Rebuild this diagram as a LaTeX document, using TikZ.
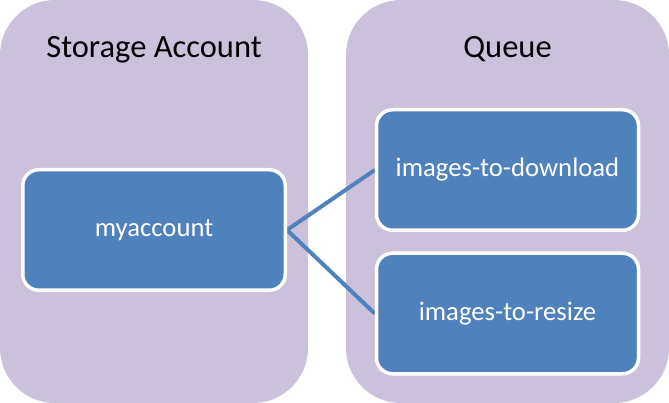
\documentclass[tikz,border=0pt]{standalone}
\usepackage{fontspec}
\setmainfont{Carlito}
\usetikzlibrary{backgrounds}
\definecolor{panelc}{HTML}{CCC1DA}
\definecolor{boxc}{HTML}{4F81BD}
\begin{document}
\begin{tikzpicture}[x=1pt,y=-1pt,
  panel/.style={rectangle,fill=panelc,draw=none,rounded corners=55pt,inner sep=0pt},
  title/.style={anchor=base,font=\fontsize{32.5}{39}\selectfont,text=black},
  qbox/.style={rectangle,fill=boxc,draw=white,line width=3.5pt,rounded corners=16pt,
    minimum width=262pt,minimum height=120.5pt,inner sep=0pt,
    text=white,font=\fontsize{26.7}{32}\selectfont},
  link/.style={draw=boxc,line width=4pt}]
\useasboundingbox (0,0) rectangle (669,403);
\node[qbox,minimum width=262.5pt] (ma) at (154,230) {myaccount};
\node[qbox] (dl) at (507.5,170) {images-to-download};
\node[qbox] (rs) at (507.5,313.5) {images-to-resize};
\begin{scope}[on background layer]
\node[panel,minimum width=308pt,minimum height=403pt] (sa) at (154,201.5) {};
\node[panel,minimum width=323pt,minimum height=403pt] (q) at (507.5,201.5) {};
\draw[link] (ma.east) -- (dl.west);
\draw[link] (ma.east) -- (rs.west);
\end{scope}
\node[title] (satitle) at (154,58) {Storage Account};
\node[title] (qtitle) at (507.5,58) {Queue};
\end{tikzpicture}
\end{document}
